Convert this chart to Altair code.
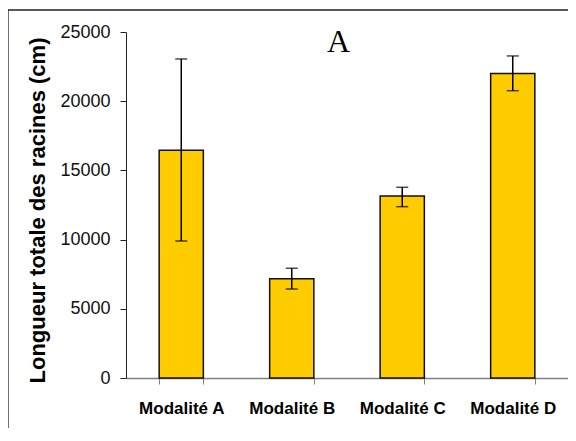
import altair as alt
import pandas as pd

categories = ["Modalité A", "Modalité B", "Modalité C", "Modalité D"]
means = [16450, 7180, 13150, 22000]
err_low = [9900, 6430, 12380, 20760]
err_high = [23050, 7930, 13780, 23270]
y_ticks = [0, 5000, 10000, 15000, 20000, 25000]
panel_label = "A"
y_title = "Longueur totale des racines (cm)"

df = pd.DataFrame({"cat": categories, "mean": means, "lo": err_low, "hi": err_high})

xscale = alt.Scale(paddingInner=0.6, paddingOuter=0.3)
yscale = alt.Scale(domain=[0, 25000], nice=False)

x_enc = alt.X("cat:N", sort=categories, scale=xscale, title=None,
              axis=alt.Axis(labelAngle=0, labelFont="Liberation Sans", labelFontSize=17,
                            labelFontWeight="bold", labelColor="black", labelPadding=16,
                            tickSize=6, tickBand="extent", domainColor="#808080",
                            tickColor="#808080", domainWidth=1.5, tickWidth=1))

frame = alt.Chart(pd.DataFrame({"k": [0]})).mark_rect(
    fill="transparent", stroke="#222222", strokeWidth=1.3
).encode(x=alt.value(-118), x2=alt.value(700), y=alt.value(-22), y2=alt.value(600))

bars = alt.Chart(df).mark_bar(color="#FFCC00", stroke="#111111", strokeWidth=1.5).encode(
    x=x_enc,
    y=alt.Y("mean:Q", scale=yscale, title=y_title,
            axis=alt.Axis(values=y_ticks, format="d", labelFont="Liberation Sans", labelFontSize=18,
                          labelColor="#111111", labelPadding=10, tickSize=6,
                          domainColor="#222222", tickColor="#222222", grid=False,
                          titleFont="Liberation Sans", titleFontSize=22, titleFontWeight="bold",
                          titleColor="black", titleAngle=-90, titleAlign="center",
                          titleBaseline="middle", titleX=-89, titleY=178)),
)

rules = alt.Chart(df).mark_rule(color="black", strokeWidth=1.5).encode(
    x=alt.X("cat:N", sort=categories, scale=xscale),
    y=alt.Y("lo:Q", scale=yscale),
    y2="hi:Q",
)

caps_hi = alt.Chart(df).mark_tick(color="black", size=12, thickness=1.5).encode(
    x=alt.X("cat:N", sort=categories, scale=xscale),
    y=alt.Y("hi:Q", scale=yscale),
)
caps_lo = alt.Chart(df).mark_tick(color="black", size=12, thickness=1.5).encode(
    x=alt.X("cat:N", sort=categories, scale=xscale),
    y=alt.Y("lo:Q", scale=yscale),
)

label = alt.Chart(pd.DataFrame({"t": [panel_label]})).mark_text(
    font="Liberation Serif", fontSize=32, color="black", align="center", baseline="alphabetic"
).encode(text="t:N", x=alt.value(212.5), y=alt.value(20))

chart = alt.layer(frame, bars, rules, caps_hi, caps_lo, label).properties(
    width=442, height=346,
    autosize=alt.AutoSizeParams(type="none"),
    padding={"left": 118, "top": 24, "right": 0, "bottom": 50},
    background="white",
).configure_view(strokeWidth=0)

chart.save("out.html", embed_options={"renderer": "svg", "actions": False})
